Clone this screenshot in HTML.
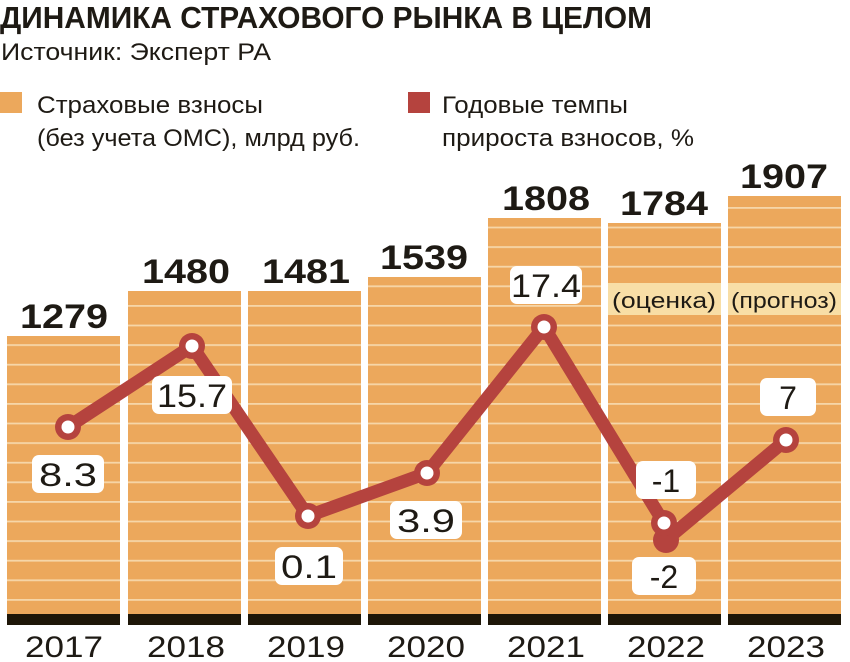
<!DOCTYPE html>
<html><head><meta charset="utf-8"><style>
html,body{margin:0;padding:0;background:#fff;}
svg{display:block;}
text{font-family:"Liberation Sans",sans-serif;fill:#1e1a14;}
</style></head><body>
<svg width="850" height="662" viewBox="0 0 850 662" xmlns="http://www.w3.org/2000/svg">
<defs>
<pattern id="st" patternUnits="userSpaceOnUse" x="0" y="207" width="10" height="19.6">
<rect width="10" height="19.6" fill="#eca85c"/>
<rect y="0" width="10" height="1.8" fill="#f6d6a8"/>
</pattern>
</defs>
<text x="0" y="28" font-size="31" font-weight="bold" textLength="652" lengthAdjust="spacingAndGlyphs">ДИНАМИКА СТРАХОВОГО РЫНКА В ЦЕЛОМ</text>
<text x="1" y="60" font-size="24" textLength="270" lengthAdjust="spacingAndGlyphs">Источник: Эксперт РА</text>
<rect x="0" y="92" width="22" height="21" fill="#eca85c"/>
<text x="37" y="113" font-size="24" textLength="226" lengthAdjust="spacingAndGlyphs">Страховые взносы</text>
<text x="37" y="146" font-size="24" textLength="323" lengthAdjust="spacingAndGlyphs">(без учета ОМС), млрд руб.</text>
<rect x="408" y="92" width="22" height="21" fill="#b5433e"/>
<text x="442" y="113" font-size="24" textLength="186" lengthAdjust="spacingAndGlyphs">Годовые темпы</text>
<text x="442" y="146" font-size="24" textLength="252" lengthAdjust="spacingAndGlyphs">прироста взносов, %</text>
<g fill="url(#st)">
<rect x="7" y="336" width="113" height="278"/>
<rect x="128" y="291" width="113" height="323"/>
<rect x="248" y="291" width="113" height="323"/>
<rect x="368" y="277" width="113" height="337"/>
<rect x="488" y="218" width="113" height="396"/>
<rect x="608" y="223" width="113" height="391"/>
<rect x="728" y="196" width="113" height="418"/>
</g>
<rect x="608" y="283" width="113" height="32" fill="#f8dea6"/>
<rect x="728" y="283" width="113" height="32" fill="#f8dea6"/>
<text x="664" y="308" font-size="22" text-anchor="middle" textLength="104" lengthAdjust="spacingAndGlyphs">(оценка)</text>
<text x="784" y="308" font-size="22" text-anchor="middle" textLength="106" lengthAdjust="spacingAndGlyphs">(прогноз)</text>
<g fill="#1e1608">
<rect x="7" y="614" width="113" height="11"/><rect x="128" y="614" width="113" height="11"/>
<rect x="248" y="614" width="113" height="11"/><rect x="368" y="614" width="113" height="11"/>
<rect x="488" y="614" width="113" height="11"/><rect x="608" y="614" width="113" height="11"/>
<rect x="728" y="614" width="113" height="11"/>
</g>
<g font-size="34" font-weight="bold" text-anchor="middle">
<text x="64" y="328" textLength="88" lengthAdjust="spacingAndGlyphs">1279</text>
<text x="186" y="283" textLength="88" lengthAdjust="spacingAndGlyphs">1480</text>
<text x="306" y="283" textLength="88" lengthAdjust="spacingAndGlyphs">1481</text>
<text x="424" y="269" textLength="88" lengthAdjust="spacingAndGlyphs">1539</text>
<text x="546" y="210" textLength="88" lengthAdjust="spacingAndGlyphs">1808</text>
<text x="664" y="215" textLength="88" lengthAdjust="spacingAndGlyphs">1784</text>
<text x="784" y="188" textLength="88" lengthAdjust="spacingAndGlyphs">1907</text>
</g>
<g font-size="30" text-anchor="middle">
<text x="64" y="657" textLength="78" lengthAdjust="spacingAndGlyphs">2017</text>
<text x="186" y="657" textLength="78" lengthAdjust="spacingAndGlyphs">2018</text>
<text x="306" y="657" textLength="78" lengthAdjust="spacingAndGlyphs">2019</text>
<text x="426" y="657" textLength="78" lengthAdjust="spacingAndGlyphs">2020</text>
<text x="546" y="657" textLength="78" lengthAdjust="spacingAndGlyphs">2021</text>
<text x="666" y="657" textLength="78" lengthAdjust="spacingAndGlyphs">2022</text>
<text x="786" y="657" textLength="78" lengthAdjust="spacingAndGlyphs">2023</text>
</g>
<polyline points="68,427 192,346 308,516 427,473 544,327 664,523 666,540 786,440" fill="none" stroke="#b5433e" stroke-width="13" stroke-linejoin="round" stroke-linecap="round"/>
<g fill="#b5433e">
<circle cx="68" cy="427" r="13"/><circle cx="192" cy="346" r="13"/><circle cx="308" cy="516" r="13"/>
<circle cx="427" cy="473" r="13"/><circle cx="544" cy="327" r="13"/><circle cx="666" cy="540" r="13"/>
<circle cx="664" cy="523" r="13"/><circle cx="786" cy="440" r="13"/>
</g>
<g fill="#fff">
<circle cx="68" cy="427" r="6.5"/><circle cx="192" cy="346" r="6.5"/><circle cx="308" cy="516" r="6.5"/>
<circle cx="427" cy="473" r="6.5"/><circle cx="544" cy="327" r="6.5"/><circle cx="664" cy="523" r="6.5"/>
<circle cx="786" cy="440" r="6.5"/>
</g>
<g fill="#fff">
<rect x="32" y="455" width="72" height="38" rx="7"/>
<rect x="152" y="376" width="80" height="38" rx="7"/>
<rect x="275" y="547" width="68" height="38" rx="7"/>
<rect x="390" y="501" width="72" height="38" rx="7"/>
<rect x="510" y="266" width="72" height="38" rx="7"/>
<rect x="636" y="461" width="60" height="38" rx="7"/>
<rect x="632" y="557" width="64" height="38" rx="7"/>
<rect x="760" y="378" width="56" height="38" rx="7"/>
</g>
<g font-size="32" text-anchor="middle">
<text x="68" y="486" textLength="58" lengthAdjust="spacingAndGlyphs">8.3</text>
<text x="192" y="407" textLength="70" lengthAdjust="spacingAndGlyphs">15.7</text>
<text x="309" y="578" textLength="56" lengthAdjust="spacingAndGlyphs">0.1</text>
<text x="426" y="532" textLength="58" lengthAdjust="spacingAndGlyphs">3.9</text>
<text x="546" y="297" textLength="70" lengthAdjust="spacingAndGlyphs">17.4</text>
<text x="666" y="492">-1</text>
<text x="664" y="588">-2</text>
<text x="788" y="409">7</text>
</g>
</svg>
</body></html>
